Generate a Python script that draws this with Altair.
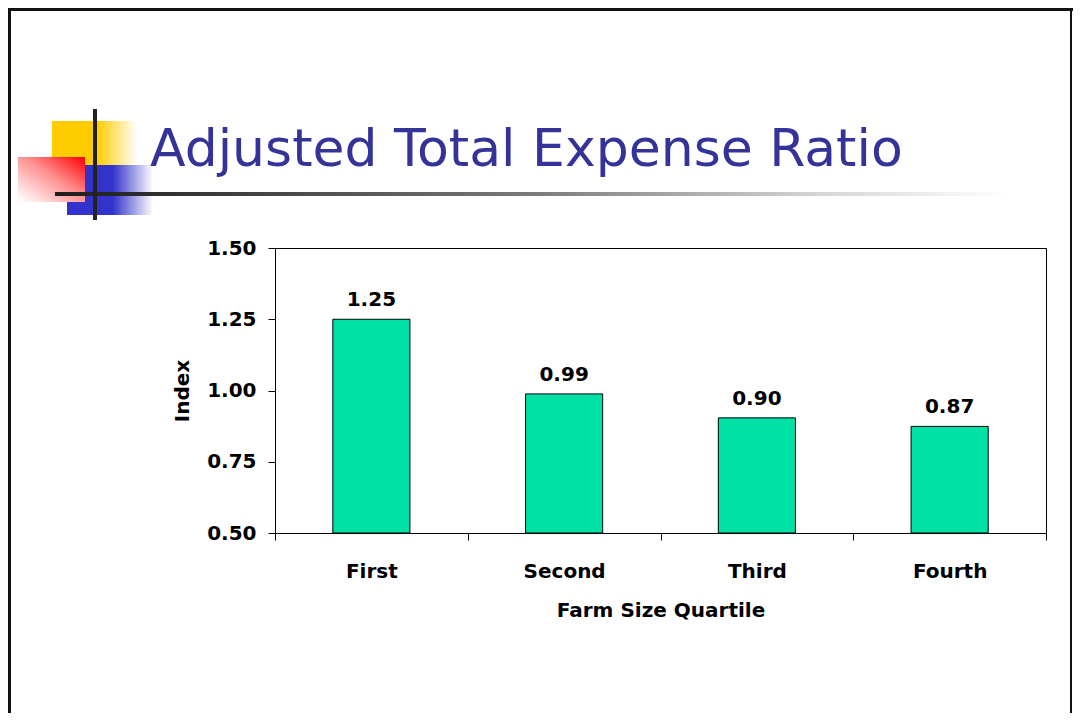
import altair as alt
import pandas as pd

# ---- data ----
quartiles = ["First", "Second", "Third", "Fourth"]
index_values = [1.25, 0.988, 0.904, 0.874]
y_ticks = [0.50, 0.75, 1.00, 1.25, 1.50]
title_text = "Adjusted Total Expense Ratio"
x_title = "Farm Size Quartile"
y_title = "Index"

df = pd.DataFrame({"quartile": quartiles, "index": index_values})

W, H = 771, 285
PAD_L, PAD_T = 267, 240
PAD_R = 1065 - PAD_L - W
PAD_B = 705 - PAD_T - H
FONT = "DejaVu Sans"
BAR_COLOR = "#00E1A5"

x_enc = alt.X(
    "quartile:N", sort=quartiles, title=x_title,
    scale=alt.Scale(paddingInner=0, paddingOuter=0),
    axis=alt.Axis(labelAngle=0, tickBand="extent", tickSize=7,
                  labelPadding=21, titlePadding=19),
)
y_enc = alt.Y(
    "index:Q", title=y_title,
    scale=alt.Scale(domain=[0.5, 1.5], zero=False, nice=False),
    axis=alt.Axis(values=y_ticks, format=".2f", tickSize=7,
                  labelPadding=12, titlePadding=14),
)

bars = alt.Chart(df).mark_bar(
    width=alt.RelativeBandSize(0.4), color=BAR_COLOR, stroke="black", strokeWidth=1
).encode(x=x_enc, y=y_enc, y2=alt.datum(0.5))

labels = alt.Chart(df).mark_text(
    dy=-13, baseline="alphabetic", font=FONT, fontSize=20, fontWeight="bold", color="black"
).encode(x=x_enc, y=y_enc, text=alt.Text("index:Q", format=".2f"))

# ---- slide decoration (outside the plot area) ----
one = pd.DataFrame({"k": [0]})


def box(x1, x2, y1, y2, color):
    return alt.Chart(one).mark_rect(color=color, strokeWidth=0).encode(
        x=alt.value(x1), x2=alt.value(x2), y=alt.value(y1), y2=alt.value(y2)
    )


def grad(stops, x1=0, y1=0, x2=1, y2=0):
    return alt.LinearGradient(
        gradient="linear",
        stops=[alt.GradientStop(color=c, offset=o) for o, c in stops],
        x1=x1, y1=y1, x2=x2, y2=y2,
    )


ox, oy = 275, 248  # page position of plot origin

def px(v):
    return v - ox

def py(v):
    return v - oy

yellow = box(px(52), px(137), py(121), py(170),
             grad([(0, "#FFCC00"), (0.53, "#FFCC00"), (1, "#FFFFFF")]))
blue = box(px(67), px(153), py(165), py(215),
           grad([(0, "#3333CC"), (0.53, "#3333CC"), (1, "#FFFFFF")]))
red = box(px(18), px(85), py(157), py(202),
          grad([(0, "#FF0000"), (0.45, "#FF8F8F"), (0.85, "#FFE6E6"), (1, "#FFFFFF")],
               x1=1, y1=0, x2=0, y2=1))
vline = box(px(93), px(97), py(109), py(220), "#222222")
hline = box(px(55), px(1010), py(192), py(196),
            grad([(0, "#1E1E1E"), (0.1, "#2E2E2E"), (0.5, "#7A7A7A"),
                  (0.8, "#D5D5D5"), (1, "#FFFFFF")]))

border_l = box(-PAD_L, -PAD_L + 3, -PAD_T, H + PAD_B, "#111111")
border_t = box(-PAD_L, W + PAD_R, -PAD_T, -PAD_T + 3, "#111111")
border_r = box(W + PAD_R - 3, W + PAD_R - 1, -PAD_T, H + PAD_B, "#111111")

title = alt.Chart(one).mark_text(
    text=title_text, font=FONT, fontSize=52, color="#333399",
    align="left", baseline="alphabetic",
).encode(x=alt.value(px(150)), y=alt.value(py(166)))

chart = alt.layer(
    border_l, border_t, border_r,
    yellow, blue, red, hline, vline, title,
    bars, labels,
).properties(
    width=W, height=H,
    padding={"left": PAD_L, "top": PAD_T, "right": PAD_R, "bottom": PAD_B},
    autosize=alt.AutoSizeParams(type="none"),
    background="white",
).configure_view(
    stroke="black", strokeWidth=1
).configure_axis(
    labelFont=FONT, labelFontSize=20, labelFontWeight="bold", labelColor="black",
    titleFont=FONT, titleFontSize=20, titleFontWeight="bold", titleColor="black",
    domainColor="black", tickColor="black", grid=False,
)

chart.save("out.html", embed_options={"renderer": "svg", "actions": False})
